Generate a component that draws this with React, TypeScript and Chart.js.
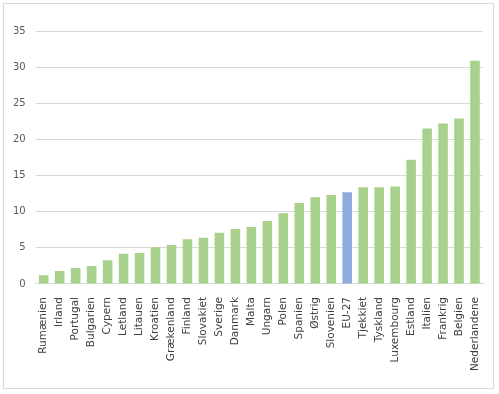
import React, { useEffect, useRef } from "react";
import { Chart, registerables } from "chart.js";

Chart.register(...registerables);

const categories = [
  "Rumænien", "Irland", "Portugal", "Bulgarien", "Cypern", "Letland", "Litauen",
  "Kroatien", "Grækenland", "Finland", "Slovakiet", "Sverige", "Danmark", "Malta",
  "Ungarn", "Polen", "Spanien", "Østrig", "Slovenien", "EU-27", "Tjekkiet",
  "Tyskland", "Luxembourg", "Estland", "Italien", "Frankrig", "Belgien", "Nederlandene",
];
const values = [
  1.2, 1.8, 2.2, 2.5, 3.3, 4.2, 4.3, 5.1, 5.4, 6.2, 6.4, 7.1, 7.6, 7.9,
  8.7, 9.8, 11.2, 12.0, 12.3, 12.7, 13.4, 13.4, 13.5, 17.2, 21.5, 22.2, 22.9, 30.9,
];
const highlight = "EU-27";
const yTicks = [0, 5, 10, 15, 20, 25, 30, 35];

export default function App() {
  const ref = useRef<HTMLCanvasElement>(null);
  useEffect(() => {
    document.body.style.margin = "0";
    const colors = categories.map((c) => (c === highlight ? "#8FAADC" : "#A9D18E"));
    const chart = new Chart(ref.current!, {
      type: "bar",
      data: {
        labels: categories,
        datasets: [
          {
            data: values,
            backgroundColor: colors,
            borderWidth: 0,
            barPercentage: 0.6,
            categoryPercentage: 1,
          },
        ],
      },
      options: {
        animation: false,
        responsive: false,
        maintainAspectRatio: false,
        layout: { padding: { top: 31, right: 16, bottom: 18, left: 3 } },
        plugins: { legend: { display: false }, tooltip: { enabled: false } },
        scales: {
          x: {
            grid: { display: false },
            border: { display: true, color: "#D9D9D9" },
            ticks: {
              color: "#404040",
              font: { family: "DejaVu Sans", size: 10.5 },
              minRotation: 90,
              maxRotation: 90,
              autoSkip: false,
              padding: 5,
            },
          },
          y: {
            min: 0,
            max: 35,
            afterBuildTicks: (axis: any) => {
              axis.ticks = yTicks.map((v) => ({ value: v }));
            },
            grid: { color: "#D9D9D9", drawTicks: false },
            border: { display: false },
            ticks: {
              color: "#595959",
              font: { family: "DejaVu Sans", size: 10 },
              padding: 10,
            },
          },
        },
      },
    });
    return () => chart.destroy();
  }, []);
  return (
    <div style={{ position: "relative", width: 499, height: 394, background: "#fff" }}>
      <div
        style={{
          position: "absolute",
          left: 3,
          top: 3,
          width: 491,
          height: 386,
          border: "1px solid #D9D9D9",
          boxSizing: "border-box",
        }}
      />
      <canvas ref={ref} width={499} height={394} style={{ position: "absolute", left: 0, top: 0 }} />
    </div>
  );
}
